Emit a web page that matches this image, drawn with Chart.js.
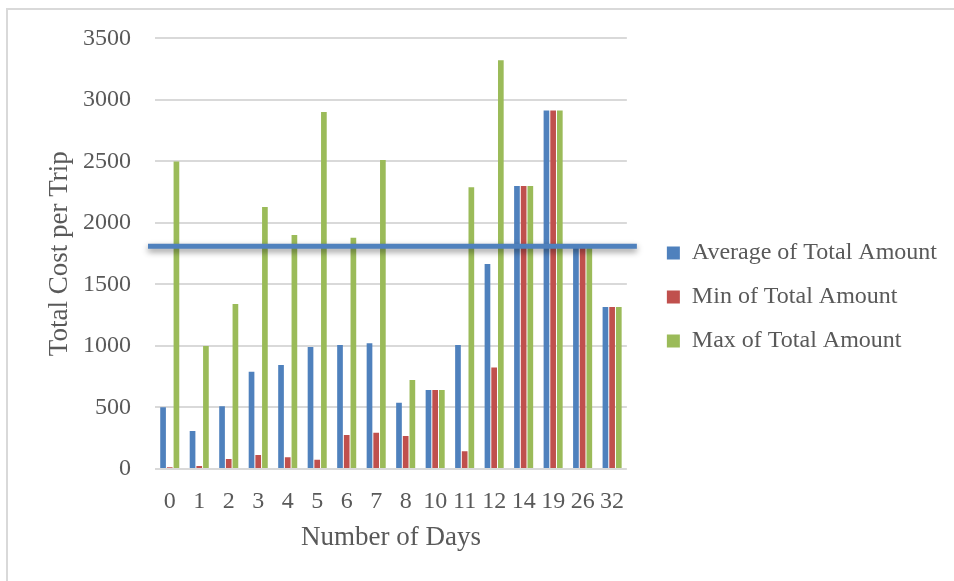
<!DOCTYPE html>
<html>
<head>
<meta charset="utf-8">
<script src="https://cdn.jsdelivr.net/npm/chart.js@4.4.1/dist/chart.umd.min.js"></script>
<style>
    html, body { margin: 0; padding: 0; background: #ffffff; }
    #chart { display: block; }
</style>
</head>
<body>
<canvas id="chart" width="954" height="581"></canvas>
<script>
const days = ['0', '1', '2', '3', '4', '5', '6', '7', '8', '10', '11', '12', '14', '19', '26', '32'];
const avgAmount = [502, 309, 510, 791, 846, 992, 1008, 1022, 539, 642, 1008, 1667, 2301, 2913, 1800, 1317];
const minAmount = [14, 24, 81, 114, 95, 76, 276, 295, 268, 642, 144, 824, 2301, 2913, 1800, 1317];
const maxAmount = [2500, 1000, 1341, 2130, 1902, 2902, 1880, 2512, 723, 642, 2290, 3323, 2301, 2913, 1800, 1317];
const refLine = 1810;

const textColor = '#595959';
const serif = '"Liberation Serif", "Times New Roman", serif';

// frame round the chart + the hand drawn blue line with its shadow
const extras = {
    id: 'extras',
    beforeDraw(chart) {
        const ctx = chart.ctx;
        ctx.save();
        ctx.fillStyle = '#ffffff';
        ctx.fillRect(0, 0, chart.width, chart.height);
        ctx.strokeStyle = '#d9d9d9';
        ctx.lineWidth = 2;
        ctx.strokeRect(7, 9, chart.width + 20, chart.height + 20);
        ctx.restore();
    },
    afterLayout(chart) {
        // push legend items a bit away from the plot
        chart.legend.left += 20;
        chart.legend.right += 20;
    },
    afterDatasetsDraw(chart) {
        const ctx = chart.ctx;
        const area = chart.chartArea;
        const y = chart.scales.y.getPixelForValue(refLine);
        ctx.save();
        ctx.shadowColor = 'rgba(0, 0, 0, 0.45)';
        ctx.shadowBlur = 6;
        ctx.shadowOffsetY = 3;
        ctx.strokeStyle = '#4f81bd';
        ctx.lineWidth = 5;
        ctx.beginPath();
        ctx.moveTo(area.left - 7, y);
        ctx.lineTo(area.right + 10, y);
        ctx.stroke();
        ctx.restore();
    }
};

const chart = new Chart(document.getElementById('chart'), {
    type: 'bar',
    data: {
        labels: days,
        datasets: [
            { label: 'Average of Total Amount', data: avgAmount, backgroundColor: '#4f81bd' },
            { label: 'Min of Total Amount', data: minAmount, backgroundColor: '#c0504d' },
            { label: 'Max of Total Amount', data: maxAmount, backgroundColor: '#9bbb59' }
        ]
    },
    options: {
        responsive: false,
        animation: false,
        devicePixelRatio: 1,
        categoryPercentage: 0.68,
        barPercentage: 0.85,
        layout: {
            padding: { left: 20, top: 38, right: 27, bottom: 25 }
        },
        plugins: {
            tooltip: { enabled: false },
            legend: {
                position: 'right',
                align: 'center',
                maxWidth: 340,
                labels: {
                    boxWidth: 13,
                    boxHeight: 13,
                    padding: 20,
                    color: textColor,
                    font: { family: serif, size: 24 }
                }
            }
        },
        scales: {
            x: {
                grid: { display: false },
                border: { display: false },
                ticks: {
                    color: textColor,
                    font: { family: serif, size: 24 },
                    padding: 10,
                    autoSkip: false,
                    maxRotation: 0,
                    minRotation: 0
                },
                title: {
                    display: true,
                    text: 'Number of Days',
                    color: textColor,
                    font: { family: serif, size: 27 },
                    padding: { top: 0, bottom: 2 }
                },
                afterFit(scale) {
                    scale.height = 87;
                }
            },
            y: {
                min: 0,
                max: 3500,
                grid: { color: '#d9d9d9', lineWidth: 2, drawTicks: false },
                border: { display: false },
                ticks: {
                    stepSize: 500,
                    color: textColor,
                    font: { family: serif, size: 24 },
                    padding: 24,
                    callback: value => String(value)
                },
                title: {
                    display: true,
                    text: 'Total Cost per Trip',
                    color: textColor,
                    font: { family: serif, size: 27 },
                    padding: { top: 24, bottom: 0 }
                },
                afterFit(scale) {
                    scale.width = 135;
                }
            }
        }
    },
    plugins: [extras]
});
</script>
</body>
</html>
